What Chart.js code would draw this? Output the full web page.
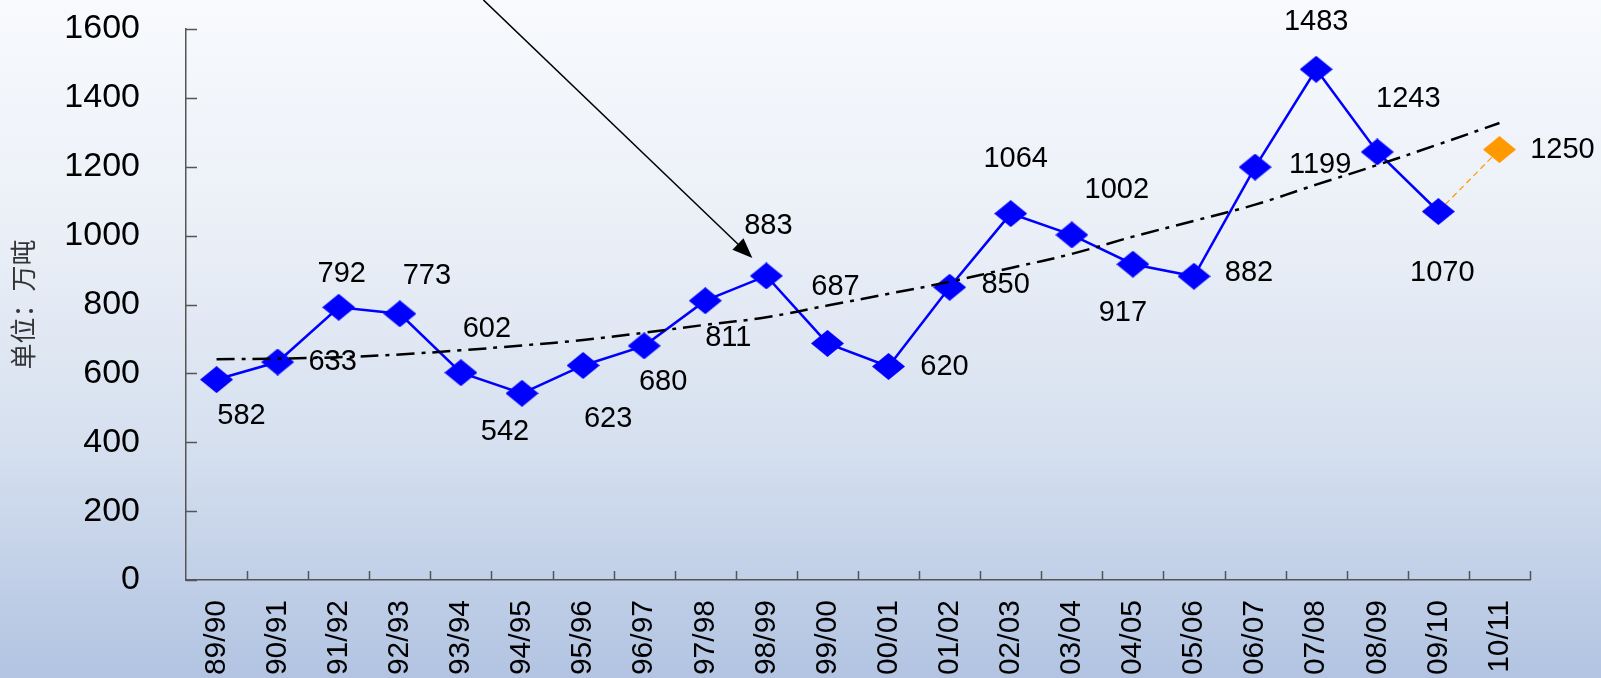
<!DOCTYPE html>
<html>
<head>
<meta charset="utf-8">
<script src="https://cdn.jsdelivr.net/npm/chart.js@4.4.0/dist/chart.umd.min.js"></script>
<style>
  html, body { margin: 0; padding: 0; overflow: hidden; }
  #wrap { width: 1601px; height: 678px; }
</style>
</head>
<body>
<div id="wrap"><canvas id="chart" width="1601" height="678"></canvas></div>
<script>
// season labels
const seasons = ['89/90', '90/91', '91/92', '92/93', '93/94', '94/95', '95/96', '96/97', '97/98', '98/99', '99/00',
    '00/01', '01/02', '02/03', '03/04', '04/05', '05/06', '06/07', '07/08', '08/09', '09/10', '10/11'];
// actual output (万吨)
const output = [582, 633, 792, 773, 602, 542, 623, 680, 811, 883, 687, 620, 850, 1064, 1002, 917, 882, 1199, 1483, 1243, 1070, null];
// 10/11 forecast
const forecastValue = 1250;
// trend line
const trend = [641, 643, 647, 655, 667, 681, 697, 718, 741, 763, 797, 831, 866, 906, 947, 997, 1043, 1090, 1148, 1205, 1265, 1327];
const yTicks = [0, 200, 400, 600, 800, 1000, 1200, 1400, 1600];

// value label placement relative to the point (label centre)
const labelOffsets = [
    [25, 36], [55, 0], [3, -33], [27, -38], [26, -44], [-17, 39], [25, 54], [19, 36], [23, 37], [2, -50], [8, -56],
    [56, 1], [56, -2], [5, -55], [45, -45], [-10, 49], [55, -3], [65, -2], [0, -47], [31, -53], [4, 61], [63, 0]
];

const forecastLine = seasons.map(function (s, i) {
    if (i === seasons.length - 2) return output[i];
    if (i === seasons.length - 1) return forecastValue;
    return null;
});

function diamond(color) {
    const c = document.createElement('canvas');
    c.width = 33;
    c.height = 27;
    const g = c.getContext('2d');
    g.fillStyle = color;
    g.beginPath();
    g.moveTo(16.5, 0);
    g.lineTo(33, 13.5);
    g.lineTo(16.5, 27);
    g.lineTo(0, 13.5);
    g.closePath();
    g.fill();
    return c;
}
const blueDiamond = diamond('#0000ff');
const orangeDiamond = diamond('#ff9900');

const FONT = "'Liberation Sans', Arial, sans-serif";

// background gradient
const backgroundPlugin = {
    id: 'background',
    beforeDraw(chart) {
        const ctx = chart.ctx;
        const grad = ctx.createLinearGradient(0, 0, 0, chart.height);
        grad.addColorStop(0, '#f8fafd');
        grad.addColorStop(0.35, '#eaeff7');
        grad.addColorStop(0.65, '#d6e0ef');
        grad.addColorStop(1, '#b2c4e2');
        ctx.save();
        ctx.fillStyle = grad;
        ctx.fillRect(0, 0, chart.width, chart.height);
        ctx.restore();
    }
};

// inward tick marks
const tickPlugin = {
    id: 'innerTicks',
    afterDraw(chart) {
        const ctx = chart.ctx;
        const x = chart.scales.x;
        const y = chart.scales.y;
        ctx.save();
        ctx.strokeStyle = '#555';
        ctx.lineWidth = 1.5;
        ctx.beginPath();
        y.ticks.forEach(function (t) {
            const py = Math.round(y.getPixelForValue(t.value)) + 0.5;
            ctx.moveTo(x.left, py);
            ctx.lineTo(x.left + 11, py);
        });
        const step = x.getPixelForTick(1) - x.getPixelForTick(0);
        for (let k = 1; k <= seasons.length; k++) {
            const px = Math.round(x.getPixelForTick(0) - step / 2 + k * step) + 0.5;
            ctx.moveTo(px, y.bottom);
            ctx.lineTo(px, y.bottom - 9);
        }
        ctx.stroke();
        ctx.restore();
    }
};

// value labels and the arrow
const labelPlugin = {
    id: 'valueLabels',
    afterDatasetsDraw(chart) {
        const ctx = chart.ctx;
        const main = chart.getDatasetMeta(1).data;
        const fc = chart.getDatasetMeta(2).data;
        ctx.save();
        ctx.fillStyle = '#000';
        ctx.font = '29px ' + FONT;
        ctx.textAlign = 'center';
        ctx.textBaseline = 'middle';
        seasons.forEach(function (s, i) {
            const v = i === seasons.length - 1 ? forecastValue : output[i];
            const pt = i === seasons.length - 1 ? fc[i] : main[i];
            const off = labelOffsets[i];
            ctx.fillText(String(v), pt.x + off[0], pt.y + off[1]);
        });

        // arrow pointing at 98/99
        const p = main[9];
        const tipX = p.x - 14, tipY = p.y - 18;
        const tailX = tipX - 269, tailY = tipY - 258;
        const ang = Math.atan2(tipY - tailY, tipX - tailX);
        ctx.strokeStyle = '#000';
        ctx.lineWidth = 1.5;
        ctx.beginPath();
        ctx.moveTo(tailX, tailY);
        ctx.lineTo(tipX - 14 * Math.cos(ang), tipY - 14 * Math.sin(ang));
        ctx.stroke();
        ctx.beginPath();
        ctx.moveTo(tipX, tipY);
        ctx.lineTo(tipX - 20 * Math.cos(ang) + 8 * Math.sin(ang), tipY - 20 * Math.sin(ang) - 8 * Math.cos(ang));
        ctx.lineTo(tipX - 20 * Math.cos(ang) - 8 * Math.sin(ang), tipY - 20 * Math.sin(ang) + 8 * Math.cos(ang));
        ctx.closePath();
        ctx.fill();
        ctx.restore();
    }
};

const ctx = document.getElementById('chart').getContext('2d');
const chart = new Chart(ctx, {
    type: 'line',
    data: {
        labels: seasons,
        datasets: [{
            // trend, drawn on top
            data: trend,
            borderColor: '#000',
            borderWidth: 2.5,
            borderDash: [18, 7, 4, 7],
            pointRadius: 0,
            tension: 0.4,
            fill: false
        }, {
            data: output,
            borderColor: '#0000ff',
            borderWidth: 2.5,
            pointStyle: blueDiamond,
            pointRadius: 14,
            tension: 0,
            fill: false
        }, {
            data: forecastLine,
            borderColor: '#ff9900',
            borderWidth: 1.2,
            borderDash: [6, 4],
            pointStyle: orangeDiamond,
            pointRadius: function (c) { return c.dataIndex === seasons.length - 1 ? 14 : 0; },
            fill: false
        }]
    },
    options: {
        responsive: false,
        animation: false,
        layout: { padding: { left: 0, right: 71, top: 29, bottom: 0 } },
        plugins: {
            legend: { display: false },
            tooltip: { enabled: false }
        },
        scales: {
            x: {
                offset: true,
                grid: { display: false, drawTicks: false },
                border: { display: true, color: '#555', width: 1.5 },
                ticks: {
                    autoSkip: false,
                    minRotation: 90,
                    maxRotation: 90,
                    padding: 20,
                    color: '#000',
                    font: { family: FONT, size: 30 }
                },
                afterFit: function (scale) { scale.height = 98; }
            },
            y: {
                min: 0,
                max: 1600,
                afterBuildTicks: function (scale) {
                    scale.ticks = yTicks.map(function (v) { return { value: v }; });
                },
                grid: { display: false, drawTicks: false },
                border: { display: true, color: '#555', width: 1.5 },
                ticks: {
                    padding: 46,
                    color: '#000',
                    font: { family: FONT, size: 34 },
                    callback: function (v) { return String(v); }
                },
                title: {
                    display: true,
                    text: '单位：万吨',
                    color: '#333',
                    padding: { top: 8, bottom: 0 },
                    font: { family: "'Noto Sans CJK SC', sans-serif", size: 26 }
                },
                afterFit: function (scale) {
                    scale.width = 186;
                    // keep the label padding from pushing the plot area down
                    scale.paddingTop = 0;
                    scale.paddingBottom = 0;
                }
            }
        }
    },
    plugins: [backgroundPlugin, tickPlugin, labelPlugin]
});
</script>
</body>
</html>
